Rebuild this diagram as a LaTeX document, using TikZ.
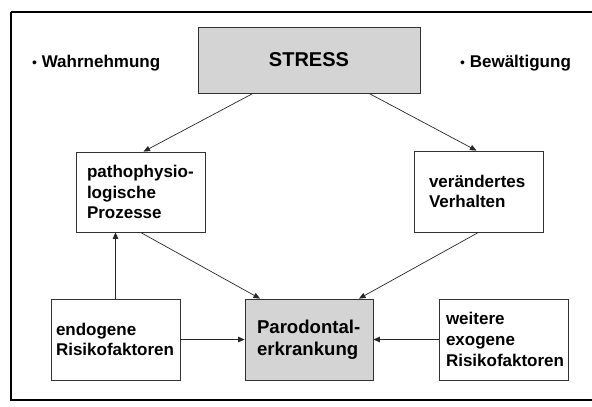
\documentclass[tikz,border=0pt]{standalone}
\usepackage{fontspec}
\setmainfont{Liberation Sans}
\usetikzlibrary{arrows.meta}
\definecolor{shade}{RGB}{212,212,212}
\definecolor{boxline}{RGB}{50,50,50}
\tikzset{
  bx/.style={draw=boxline, line width=0.8pt, fill=white, font=\bfseries\fontsize{17}{20.7}\selectfont, align=left, inner ysep=0pt},
  shaded/.style={fill=shade},
  conn/.style={line width=0.7pt, draw=black!85, -{Triangle[length=6.5pt,width=5.5pt]}},
  lbl/.style={font=\bfseries\fontsize{17}{20}\selectfont, inner sep=0pt}
}
\begin{document}
\begin{tikzpicture}[x=1pt,y=-1pt]
\useasboundingbox (0,0) rectangle (592,407);
\draw[line width=2.6pt] (11,12) -- (620,12) (11,12) -- (11,400) -- (620,400);
% boxes
\node[bx, shaded, minimum width=222pt, minimum height=66pt, align=center, font=\bfseries\fontsize{20}{24}\selectfont] (stress) at (309,60) {STRESS};
\node[bx, text width=107pt, inner xsep=11pt, minimum height=80pt] (patho) at (140.5,192) {pathophysio-\\logische\\Prozesse};
\node[bx, text width=99pt, inner xsep=15pt, minimum height=81pt] (verh) at (478.5,191.5) {verändertes\\Verhalten};
\node[bx, text width=119pt, inner xsep=5pt, minimum height=81pt] (endo) at (115.5,339.5) {endogene\\Risikofaktoren};
\node[bx, shaded, text width=104pt, inner xsep=12pt, minimum height=81pt, font=\bfseries\fontsize{18.6}{21.5}\selectfont] (paro) at (309,339.5) {Parodontal-\\erkrankung};
\node[bx, text width=115pt, inner xsep=7pt, minimum height=81pt] (weit) at (503.5,339.5) {weitere\\exogene\\Risikofaktoren};
% labels
\node[lbl, anchor=base west] (wahr) at (32,67) {{\mdseries\fontsize{14}{17}\selectfont •} Wahrnehmung};
\node[lbl, anchor=base west] (bew) at (460,67) {{\mdseries\fontsize{14}{17}\selectfont •} Bewältigung};
% connectors
\draw[conn] ([xshift=-56pt]stress.south) -- ([xshift=3pt]patho.north);
\draw[conn] ([xshift=60pt]stress.south) -- ([xshift=-2pt]verh.north);
\draw[conn] (patho.south) -- ([xshift=-49pt]paro.north);
\draw[conn] (verh.south) -- ([xshift=50pt]paro.north);
\draw[conn] (endo.north) -- (endo.north |- patho.south);
\draw[conn] (endo.east) -- (paro.west);
\draw[conn] (weit.west) -- (paro.east);
\end{tikzpicture}
\end{document}
